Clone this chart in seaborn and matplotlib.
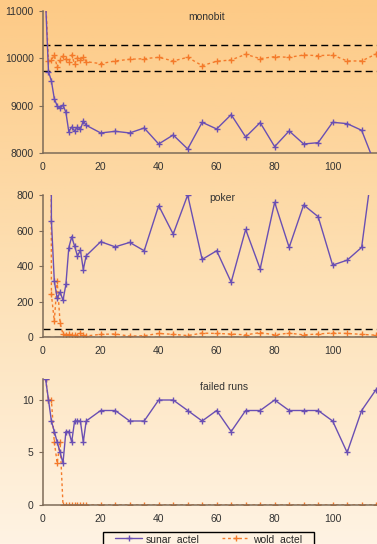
import matplotlib
matplotlib.use("Agg")
import matplotlib.pyplot as plt
import matplotlib.colors as mcolors
from matplotlib.patches import Rectangle
import numpy as np
import pandas as pd
import seaborn as sns

# x positions (number of samples)
x_vals = list(range(1, 16)) + list(range(20, 120, 5))

mono_sunar = [11200, 9718, 9521, 9148, 8993, 8944, 9014, 8859, 8451, 8549, 8465, 8549,
              8500, 8676, 8585, 8423, 8458, 8423, 8528, 8190, 8380, 8085, 8648, 8507,
              8810, 8338, 8641, 8134, 8465, 8190, 8218, 8648, 8620, 8479, 7700]
mono_wold = [11300, 9944, 9958, 10070, 9810, 9958, 10049, 9979, 9923, 10070, 9880, 10014,
             9965, 10021, 9930, 9887, 9944, 9979, 9993, 10021, 9944, 10021, 9845, 9937,
             9965, 10085, 9993, 10035, 10021, 10070, 10056, 10070, 9944, 9944, 10092]
poker_sunar = [40000, 12000, 655, 316, 217, 254, 207, 296, 503, 565, 512, 456, 490, 380,
               458, 537, 508, 533, 486, 740, 580, 800, 437, 486, 309, 606, 384, 759, 505,
               744, 678, 405, 433, 505, 1120]
poker_wold = [40000, 12000, 240, 90, 315, 80, 15, 14, 15, 10, 12, 8, 22, 10, 6, 15, 17, 5,
              7, 20, 15, 8, 22, 20, 17, 12, 25, 12, 22, 12, 17, 23, 20, 15, 10]
runs_sunar = [12, 10, 8, 7, 6, 5, 4, 7, 7, 6, 8, 8, 8, 6, 8, 9, 9, 8, 8, 10, 10, 9, 8, 9,
              7, 9, 9, 10, 9, 9, 9, 8, 5, 9, 11]
runs_wold = [12, 10, 10, 6, 4, 6] + [0] * 29

mono_bounds = [9725, 10275]
poker_bounds = [2.16, 46.17]

PURPLE = "#6a4fb3"
ORANGE = "#f47a2a"
SPINE = "#7d6b58"

sns.set_style("white")
plt.rcParams["font.family"] = ["Liberation Sans", "DejaVu Sans"]
plt.rcParams["font.size"] = 7.5

fig = plt.figure(figsize=(3.77, 5.44), dpi=100)

# orange-to-cream gradient background
bg = fig.add_axes([0, 0, 1, 1], zorder=-10)
grad = np.linspace(0, 1, 256).reshape(-1, 1)
cmap = mcolors.LinearSegmentedColormap.from_list("bg", ["#fdca86", "#fde0b4", "#fff3e3"])
bg.imshow(grad, aspect="auto", cmap=cmap, extent=[0, 1, 0, 1])
bg.axis("off")

L, W = 42.7 / 377, 1 - 42.7 / 377
panels = [
    dict(rect=[L, 0.7188, W, 0.261], s=mono_sunar, w=mono_wold, ylim=(8000, 11000),
         yticks=[8000, 9000, 10000, 11000], bounds=mono_bounds, title="monobit",
         tpos=(0.491, 0.96)),
    dict(rect=[L, 0.3805, W, 0.261], s=poker_sunar, w=poker_wold, ylim=(0, 800),
         yticks=[0, 200, 400, 600, 800], bounds=poker_bounds, title="poker",
         tpos=(0.536, 0.977)),
    dict(rect=[L, 0.0717, W, 0.2316], s=runs_sunar, w=runs_wold, ylim=(0, 12),
         yticks=[0, 5, 10], bounds=None, title="failed runs", tpos=(0.544, 0.934)),
]

for p in panels:
    ax = fig.add_axes(p["rect"])
    ax.set_facecolor("none")
    df = pd.DataFrame({"x": x_vals, "sunar_actel": p["s"], "wold_actel": p["w"]})
    if p["bounds"]:
        for b in p["bounds"]:
            ax.axhline(b, color="black", lw=1, ls=(0, (5, 3)), zorder=1)
    sns.lineplot(data=df, x="x", y="sunar_actel", ax=ax, color=PURPLE, lw=1,
                 marker="+", markersize=5, markeredgewidth=1, markeredgecolor=PURPLE,
                 label="sunar_actel", legend=False, zorder=3)
    sns.lineplot(data=df, x="x", y="wold_actel", ax=ax, color=ORANGE, lw=1,
                 linestyle=(0, (2, 2)), marker="+", markersize=5, markeredgewidth=1,
                 markeredgecolor=ORANGE, label="wold_actel", legend=False, zorder=2)
    ax.set_xlim(0, 115.3)
    ax.set_ylim(*p["ylim"])
    ax.set_xticks([0, 20, 40, 60, 80, 100])
    ax.set_yticks(p["yticks"])
    ax.set_xlabel("")
    ax.set_ylabel("")
    for side in ["top", "right"]:
        ax.spines[side].set_visible(False)
    for side in ["left", "bottom"]:
        ax.spines[side].set_color(SPINE)
        ax.spines[side].set_linewidth(1.1)
    ax.tick_params(axis="x", direction="in", length=3, color=SPINE, labelsize=7.5,
                   labelcolor="#333333", pad=6.5)
    ax.tick_params(axis="y", direction="out", length=3, color=SPINE, labelsize=7.5,
                   labelcolor="#333333", pad=3.5, left=True)
    ax.text(*p["tpos"], p["title"], transform=ax.transAxes, ha="center", va="center",
            fontsize=7.5, color="#333333")
    last_ax = ax

# legend: entries without frame, box drawn separately (it runs off the bottom edge)
handles, labels = last_ax.get_legend_handles_labels()
fig.legend(handles, labels, loc="center", bbox_to_anchor=(208.5 / 377, 1 - 539 / 544),
           ncol=2, frameon=False, fontsize=7.5, handlelength=2.6,
           columnspacing=2.2, borderpad=0, handletextpad=0.3, borderaxespad=0)
fig.patches.append(Rectangle((103 / 377, -0.02), 211 / 377, 0.02 + 12 / 544,
                             transform=fig.transFigure, fill=False, edgecolor="black",
                             linewidth=1.0, zorder=5))

fig.savefig("out.png", dpi=100)
